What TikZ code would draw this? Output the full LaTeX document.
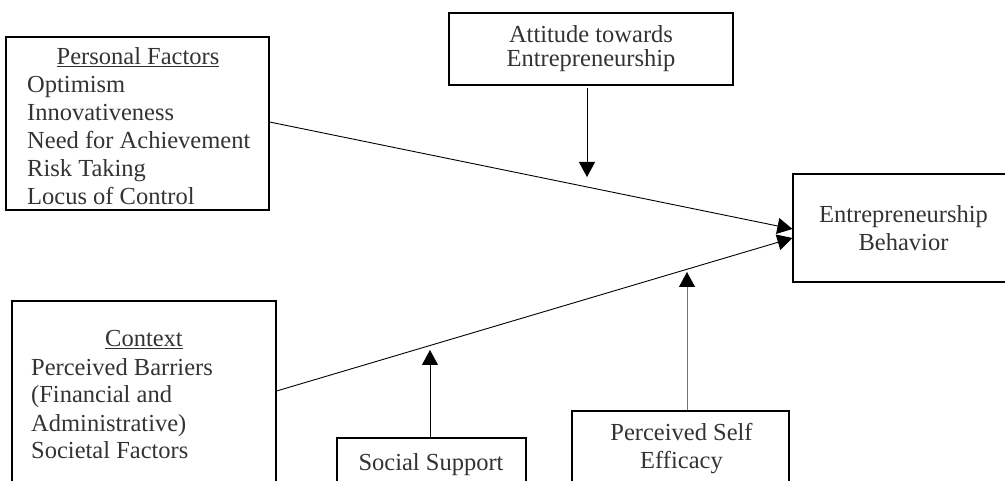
\documentclass[tikz,border=0pt]{standalone}
\usepackage{fontspec}
\setmainfont{Liberation Serif}
\usetikzlibrary{arrows.meta}
\newcommand\fz{\fontsize{24.5}{28}\selectfont}
\begin{document}
\begin{tikzpicture}[x=1pt,y=-1pt,
  box/.style={draw, line width=1.2pt, rectangle, inner sep=0pt},
  txt/.style={text=black!80, inner sep=0pt, font=\fz},
  arr/.style={line width=0.9pt, -{Triangle[length=15pt,width=16pt]}}]
\useasboundingbox (0,0) rectangle (1005,481);
\clip (0,0) rectangle (1005,481);
% boxes
\node[box, minimum width=263pt, minimum height=173pt] (pf) at (137.5,123.5) {};
\node[box, minimum width=284pt, minimum height=72pt] (att) at (591,49) {};
\node[box, minimum width=247pt, minimum height=108pt] (beh) at (916.5,228) {};
\node[box, minimum width=264pt, minimum height=219pt] (ctx) at (144,410.5) {};
\node[box, minimum width=189pt, minimum height=82pt] (ss) at (431.5,479) {};
\node[box, minimum width=217pt, minimum height=109pt] (pse) at (680.5,465.5) {};
% texts
\node[txt, anchor=base] (pftitle) at (138,65) {\underline{Personal Factors}};
\node[txt, anchor=base west] (pfbody) at (27,93) {\begin{tabular}[t]{@{}l@{}}Optimism\\ Innovativeness\\ Need for Achievement\\ Risk Taking\\ Locus of Control\end{tabular}};
\node[txt, anchor=base] (atttext) at (591,43) {\begin{tabular}[t]{@{}c@{}}Attitude towards\\[-4pt] Entrepreneurship\end{tabular}};
\node[txt, anchor=base] (behtext) at (903.5,223) {\begin{tabular}[t]{@{}c@{}}Entrepreneurship\\ Behavior\end{tabular}};
\node[txt, anchor=base] (ctxtitle) at (144,347) {\underline{Context}};
\node[txt, anchor=base west] (ctxbody) at (31,375) {\begin{tabular}[t]{@{}l@{}}Perceived Barriers\\ (Financial and\\ Administrative)\\ Societal Factors\end{tabular}};
\node[txt, anchor=base] (sstext) at (431,470) {Social Support};
\node[txt, anchor=base] (psetext) at (681.5,440) {\begin{tabular}[t]{@{}c@{}}Perceived Self\\ Efficacy\end{tabular}};
% connector end points
\coordinate (atip) at (587,177);
\coordinate (sstip) at (430,350);
\coordinate (psetip) at (687,272);
% connectors
\draw[arr] ([yshift=1.5pt]pf.east) -- ([yshift=-1pt]beh.west);
\draw[arr] ([yshift=19.5pt]ctx.east) -- ([yshift=-10pt]beh.west);
\draw[arr] ([yshift=-2pt]att.south -| atip) -- (atip);
\draw[arr] (ss.north -| sstip) -- (sstip);
\draw[arr, draw=black!55, -{Triangle[length=15pt,width=16pt,color=black]}] (pse.north -| psetip) -- (psetip);
\end{tikzpicture}
\end{document}
